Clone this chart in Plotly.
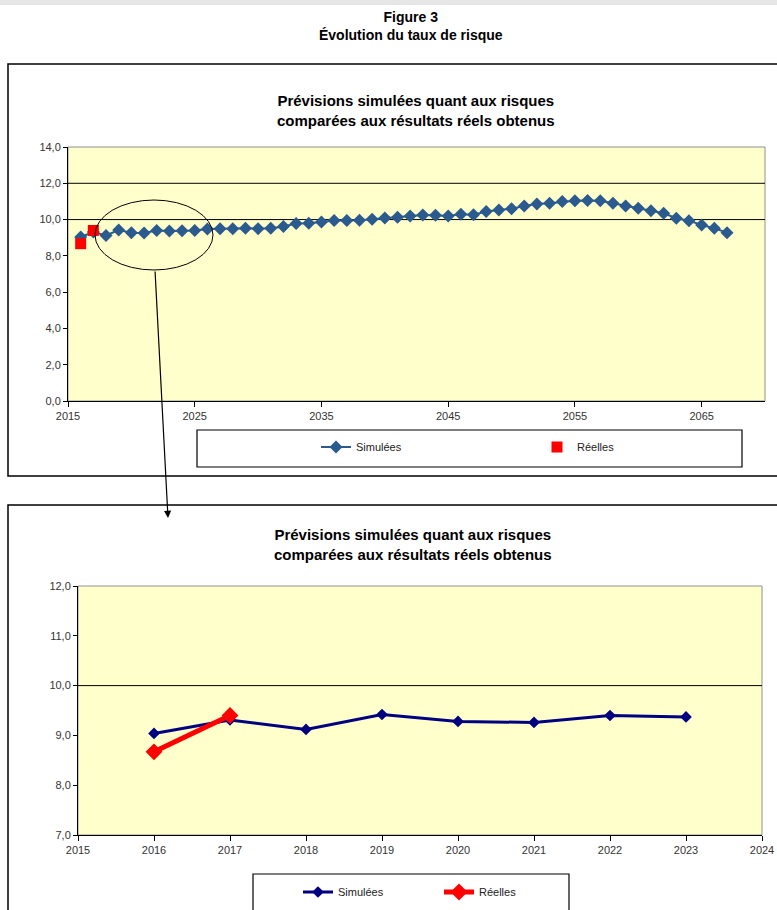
import plotly.graph_objects as go

W, H = 777, 910

# ---- data ----
years_sim = list(range(2016, 2068))
sim_values = [9.04, 9.31, 9.12, 9.42, 9.28, 9.26, 9.40, 9.37, 9.39, 9.40,
              9.48, 9.50, 9.50, 9.52, 9.50, 9.52, 9.62, 9.78, 9.80, 9.87,
              9.95, 9.95, 9.96, 10.02, 10.08, 10.13, 10.20, 10.25, 10.24, 10.20,
              10.30, 10.27, 10.44, 10.53, 10.60, 10.75, 10.86, 10.90, 10.99, 11.04,
              11.05, 11.04, 10.90, 10.75, 10.62, 10.49, 10.35, 10.07, 9.94, 9.70,
              9.52, 9.28]
years_real = [2016, 2017]
real_values = [8.67, 9.40]

zoom_years = list(range(2016, 2024))
zoom_sim = sim_values[:8]

top_xticks = [2015, 2025, 2035, 2045, 2055, 2065]
bottom_xticks = list(range(2015, 2025))

series_names = ["Simulées", "Réelles"]
fig_title = "<b>Figure 3</b><br><b>Évolution du taux de risque</b>"
chart_title = "<b>Prévisions simulées quant aux risques</b><br><b>comparées aux résultats réels obtenus</b>"


def px_x(p):
    return p / W


def px_y(p):
    return 1 - p / H


FONT = "Liberation Sans, Arial, sans-serif"

fig = go.Figure()

fig.add_trace(go.Scatter(
    x=years_sim, y=sim_values, name=series_names[0], mode="lines+markers",
    line=dict(color="#2A5A8E", width=2),
    marker=dict(symbol="diamond", size=10, color="#2A5A8E"),
    xaxis="x", yaxis="y", legend="legend"))
fig.add_trace(go.Scatter(
    x=years_real, y=real_values, name=series_names[1], mode="markers",
    marker=dict(symbol="square", size=11, color="#FF0000"),
    xaxis="x", yaxis="y", legend="legend"))

fig.add_trace(go.Scatter(
    x=zoom_years, y=zoom_sim, name=series_names[0], mode="lines+markers",
    line=dict(color="#000080", width=3),
    marker=dict(symbol="diamond", size=9, color="#000080"),
    xaxis="x2", yaxis="y2", legend="legend2"))
fig.add_trace(go.Scatter(
    x=years_real, y=real_values, name=series_names[1], mode="lines+markers",
    line=dict(color="#FF0000", width=5),
    marker=dict(symbol="diamond", size=13, color="#FF0000"),
    xaxis="x2", yaxis="y2", legend="legend2"))

tickfont = dict(family=FONT, size=11, color="#333333")

axis_common = dict(showgrid=False, zeroline=False, showline=True, linecolor="#000000",
                   linewidth=1, ticks="outside", tickcolor="#000000", tickfont=tickfont,
                   automargin=False)

fig.update_layout(
    width=W, height=H,
    margin=dict(l=0, r=0, t=0, b=0, autoexpand=False),
    paper_bgcolor="#FFFFFF",
    plot_bgcolor="#FFFFCC",
    separators=", ",
    font=dict(family=FONT, color="#000000"),
    xaxis=dict(domain=[px_x(68), px_x(765)], range=[2015, 2070], tickvals=top_xticks,
               tickformat="d", ticklen=5, anchor="y", **axis_common),
    yaxis=dict(domain=[px_y(401), px_y(147)], range=[0, 14], dtick=2, tickformat=".1f",
               ticklen=4, anchor="x", **axis_common),
    xaxis2=dict(domain=[px_x(78), px_x(762)], range=[2015, 2024], tickvals=bottom_xticks,
                tickformat="d", ticklen=5, anchor="y2", **axis_common),
    yaxis2=dict(domain=[px_y(835), px_y(586)], range=[7, 12], dtick=1, tickformat=".1f",
                ticklen=4, anchor="x2", **axis_common),
    legend=dict(orientation="h", x=px_x(316), y=px_y(447), xanchor="left", yanchor="middle",
                bgcolor="rgba(0,0,0,0)", entrywidth=176, font=dict(family=FONT, size=11, color="#222222")),
    legend2=dict(orientation="h", x=px_x(298), y=px_y(892), xanchor="left", yanchor="middle",
                 bgcolor="rgba(0,0,0,0)", entrywidth=96, font=dict(family=FONT, size=11, color="#222222")),
    showlegend=True,
)

shapes = []
shapes.append(dict(type="rect", xref="paper", yref="paper", x0=0, x1=1, y0=px_y(5), y1=1,
                   line=dict(width=0), fillcolor="#E6E6E6", layer="below"))
shapes.append(dict(type="rect", xref="paper", yref="paper", x0=px_x(8), x1=px_x(800),
                   y0=px_y(476), y1=px_y(64), line=dict(color="#000000", width=1.5)))
shapes.append(dict(type="rect", xref="paper", yref="paper", x0=px_x(8), x1=px_x(800),
                   y0=px_y(930), y1=px_y(505), line=dict(color="#000000", width=1.5)))
shapes.append(dict(type="rect", xref="paper", yref="paper", x0=px_x(197), x1=px_x(742),
                   y0=px_y(467), y1=px_y(430), line=dict(color="#000000", width=1.2)))
shapes.append(dict(type="rect", xref="paper", yref="paper", x0=px_x(253), x1=px_x(569),
                   y0=px_y(940), y1=px_y(874), line=dict(color="#000000", width=1.2)))
for xr, yr in (("x domain", "y domain"), ("x2 domain", "y2 domain")):
    shapes.append(dict(type="rect", xref=xr, yref=yr, x0=0, x1=1, y0=0, y1=1,
                       line=dict(color="#909090", width=1), layer="below"))
for v in (10, 12):
    shapes.append(dict(type="line", xref="x domain", yref="y", x0=0, x1=1, y0=v, y1=v,
                       line=dict(color="#000000", width=1), layer="below"))
shapes.append(dict(type="line", xref="x2 domain", yref="y2", x0=0, x1=1, y0=10, y1=10,
                   line=dict(color="#000000", width=1), layer="below"))
shapes.append(dict(type="circle", xref="paper", yref="paper", x0=px_x(95), x1=px_x(213),
                   y0=px_y(270), y1=px_y(200), line=dict(color="#000000", width=1)))
fig.update_layout(shapes=shapes)

annotations = [
    dict(text=fig_title, x=px_x(411), y=px_y(26), xref="paper", yref="paper",
         showarrow=False, font=dict(family=FONT, size=14, color="#000000"), xanchor="center", yanchor="middle"),
    dict(text=chart_title, x=px_x(416), y=px_y(110), xref="paper", yref="paper",
         showarrow=False, font=dict(family=FONT, size=15, color="#000000"), xanchor="center", yanchor="middle"),
    dict(text=chart_title, x=px_x(413), y=px_y(544), xref="paper", yref="paper",
         showarrow=False, font=dict(family=FONT, size=15, color="#000000"), xanchor="center", yanchor="middle"),
    dict(text="", x=px_x(168), y=px_y(518), xref="paper", yref="paper", showarrow=True,
         ax=-13, ay=-248, arrowhead=2, arrowsize=1.2, arrowwidth=1.2, arrowcolor="#000000"),
]
fig.update_layout(annotations=annotations)

fig.write_html(
    "out.html",
    config={"displayModeBar": False},
    post_script="document.body.style.margin='0';document.body.style.overflow='hidden';",
)
